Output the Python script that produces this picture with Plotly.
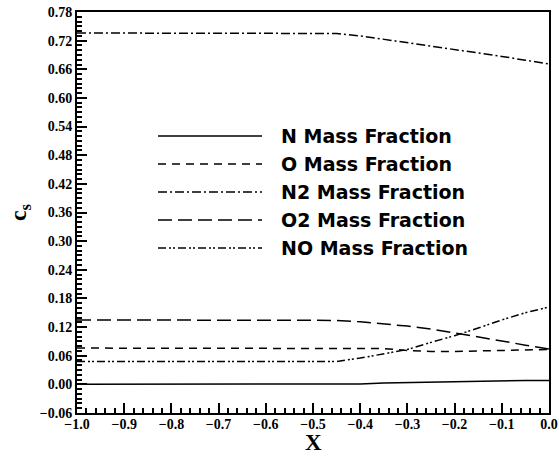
import plotly.graph_objects as go

x_vals = [-1.0, -0.9, -0.8, -0.7, -0.6, -0.5, -0.45, -0.4, -0.35, -0.3, -0.25, -0.2, -0.15, -0.1, -0.05, 0.0]
n_frac  = [0.000, 0.000, 0.000, 0.000, 0.000, 0.000, 0.000, 0.001, 0.003, 0.004, 0.005, 0.006, 0.007, 0.007, 0.008, 0.008]
o_frac  = [0.076, 0.076, 0.076, 0.076, 0.076, 0.076, 0.076, 0.076, 0.075, 0.071, 0.069, 0.069, 0.070, 0.071, 0.072, 0.073]
n2_frac = [0.736, 0.736, 0.736, 0.736, 0.736, 0.736, 0.735, 0.730, 0.723, 0.716, 0.709, 0.701, 0.694, 0.687, 0.679, 0.671]
o2_frac = [0.135, 0.135, 0.135, 0.135, 0.135, 0.135, 0.134, 0.131, 0.127, 0.122, 0.116, 0.108, 0.100, 0.091, 0.082, 0.074]
no_frac = [0.048, 0.048, 0.048, 0.048, 0.048, 0.048, 0.048, 0.055, 0.064, 0.073, 0.088, 0.102, 0.118, 0.135, 0.150, 0.162]

names = ["N Mass Fraction", "O Mass Fraction", "N2 Mass Fraction", "O2 Mass Fraction", "NO Mass Fraction"]
series = [n_frac, o_frac, n2_frac, o2_frac, no_frac]
dashes = ["solid", "8px,6px", "9px,3px,2px,3px", "14px,6px", "8px,3px,2px,2px,2px,3px"]

fig = go.Figure()
for name, ys, d in zip(names, series, dashes):
    fig.add_trace(go.Scatter(x=x_vals, y=ys, mode="lines", name=name,
                             line=dict(color="black", width=1.5, dash=d),
                             showlegend=False))

# manual legend (long line samples like the original)
W, H = 559, 456
ml, mr, mt, mb = 77, 10, 12, 43
pw, ph = W - ml - mr, H - mt - mb
def px2paper(xp, yp):
    return (xp - ml) / pw, 1 - (yp - mt) / ph

rows_y = [136, 164, 192, 220, 248]
for name, d, yp in zip(names, dashes, rows_y):
    x0, y0 = px2paper(158, yp)
    x1, _ = px2paper(262, yp)
    fig.add_shape(type="line", xref="paper", yref="paper", x0=x0, x1=x1, y0=y0, y1=y0,
                  line=dict(color="black", width=1.5, dash=d))
    tx, ty = px2paper(279, yp)
    fig.add_annotation(xref="paper", yref="paper", x=tx, y=ty, text="<b>" + name + "</b>", showarrow=False,
                       xanchor="left", yanchor="middle",
                       font=dict(family="DejaVu Sans", size=19, color="black"))

# x-axis title as annotation
_, yt = px2paper(313, 456)
fig.add_annotation(xref="paper", yref="paper", x=0.5, y=yt, text="<b>X</b>", showarrow=False,
                   xanchor="center", yanchor="bottom", borderpad=0,
                   font=dict(family="Liberation Serif, Times New Roman", size=23, color="black"))

tick_font = dict(family="Liberation Serif, Times New Roman", size=14, color="black", weight="bold")
fig.update_xaxes(range=[-1.0, 0.0], dtick=0.1, tick0=-1.0, tickformat=".1f",
                 ticks="inside", ticklen=10, tickwidth=1.5, tickcolor="black",
                 minor=dict(ticks="inside", ticklen=5, dtick=0.02, tick0=-1.0, tickcolor="black", tickwidth=1.5),
                 showline=True, linewidth=2, linecolor="black", mirror=True,
                 showgrid=False, zeroline=False,
                 tickfont=tick_font, ticklabelstandoff=-3)
fig.update_yaxes(range=[-0.06, 0.78], dtick=0.06, tick0=0.0, tickformat=".2f",
                 ticks="inside", ticklen=10, tickwidth=1.5, tickcolor="black",
                 minor=dict(ticks="inside", ticklen=5, dtick=0.01, tick0=0.0, tickcolor="black", tickwidth=1.5),
                 showline=True, linewidth=2, linecolor="black", mirror=True,
                 showgrid=False, zeroline=False,
                 tickfont=tick_font,
                 title=dict(text="<b>c<sub>s</sub></b>", font=dict(family="Liberation Serif, Times New Roman", size=24, color="black"), standoff=6))

fig.update_layout(width=W, height=H, margin=dict(l=ml, r=mr, t=mt, b=mb, autoexpand=False),
                  plot_bgcolor="white", paper_bgcolor="white")

fig.write_html("out.html")
